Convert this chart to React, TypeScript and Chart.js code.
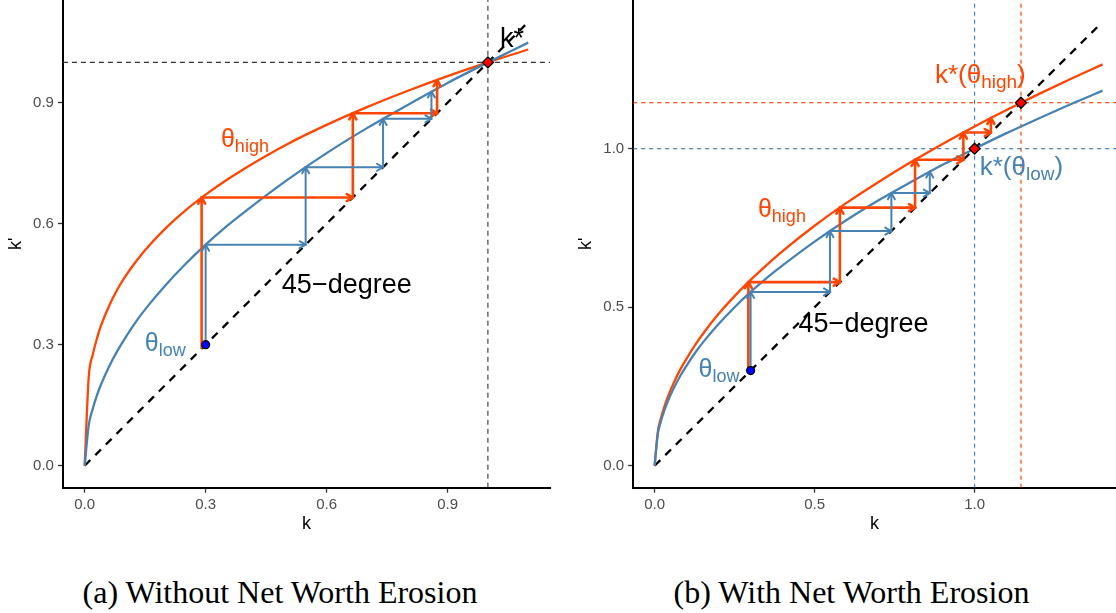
import React, { useEffect, useRef } from "react";
import { Chart, registerables } from "chart.js";

Chart.register(...registerables);

const FONT = '"Liberation Sans", Arial, Helvetica, sans-serif';
const ORANGE = "#FF4500";
const BLUE = "#4682B4";

// ---------- Panel (a): Without Net Worth Erosion ----------
const kGridA = [0, 0.01, 0.02, 0.03, 0.04, 0.06, 0.08, 0.1, 0.13, 0.16, 0.2, 0.25, 0.3, 0.35, 0.4, 0.5, 0.6, 0.7, 0.8, 0.9, 1.0, 1.1];
const thetaHighA = [0, 0.219, 0.275, 0.314, 0.346, 0.395, 0.435, 0.468, 0.51, 0.546, 0.588, 0.633, 0.672, 0.707, 0.739, 0.796, 0.845, 0.889, 0.929, 0.966, 1.0, 1.032];
const thetaLowA = [0, 0.1, 0.141, 0.173, 0.2, 0.245, 0.283, 0.316, 0.361, 0.4, 0.447, 0.5, 0.548, 0.592, 0.632, 0.707, 0.775, 0.837, 0.894, 0.949, 1.0, 1.049];
const diagA = [0, 1.1];
const steadyA = [1.0];
const startA = [0.3];
const webHighAK = [0.29, 0.29, 0.665, 0.665, 0.874, 0.874];
const webHighAY = [0.29, 0.665, 0.665, 0.874, 0.874, 0.956];
const webLowAK = [0.3, 0.3, 0.548, 0.548, 0.74, 0.74, 0.86, 0.86];
const webLowAY = [0.3, 0.548, 0.548, 0.74, 0.74, 0.86, 0.86, 0.928];
const ticksAX = [0, 0.3, 0.6, 0.9];
const ticksAY = [0, 0.3, 0.6, 0.9];

// ---------- Panel (b): With Net Worth Erosion ----------
const kGridB = [0, 0.01, 0.02, 0.03, 0.04, 0.06, 0.08, 0.1, 0.13, 0.16, 0.2, 0.25, 0.3, 0.35, 0.4, 0.5, 0.6, 0.7, 0.8, 0.9, 1.0, 1.1, 1.2, 1.3, 1.4];
const thetaHighB = [0, 0.107, 0.151, 0.185, 0.214, 0.262, 0.303, 0.338, 0.386, 0.428, 0.479, 0.535, 0.586, 0.633, 0.677, 0.757, 0.829, 0.895, 0.957, 1.015, 1.07, 1.122, 1.172, 1.22, 1.266];
const thetaLowB = [0, 0.1, 0.141, 0.173, 0.2, 0.245, 0.283, 0.316, 0.361, 0.4, 0.447, 0.5, 0.548, 0.592, 0.632, 0.707, 0.775, 0.837, 0.894, 0.949, 1.0, 1.049, 1.095, 1.14, 1.183];
const diagB = [0, 1.39];
const steadyB = [1.0, 1.145];
const startB = [0.3];
const webHighBK = [0.293, 0.293, 0.579, 0.579, 0.814, 0.814, 0.965, 0.965, 1.051, 1.051];
const webHighBY = [0.3, 0.579, 0.579, 0.814, 0.814, 0.965, 0.965, 1.051, 1.051, 1.097];
const webLowBK = [0.3, 0.3, 0.548, 0.548, 0.74, 0.74, 0.86, 0.86];
const webLowBY = [0.3, 0.548, 0.548, 0.74, 0.74, 0.86, 0.86, 0.928];
const ticksBX = [0, 0.5, 1.0];
const ticksBY = [0, 0.5, 1.0];

type Part = { t: string; size: number; dy?: number };
type Label = { x: number; y: number; color: string; parts: Part[] };
type RefLine = { v: number; color: string; dash: number[]; width: number };

interface PanelSpec {
  width: number;
  height: number;
  xMin: number;
  xMax: number;
  yMin: number;
  yMax: number;
  axisLeft: number;
  axisBottom: number;
  padRight: number;
  yTitlePad: number;
  xTicks: number[];
  yTicks: number[];
  kGrid: number[];
  high: number[];
  low: number[];
  diag: number[];
  webHighK: number[];
  webHighY: number[];
  webLowK: number[];
  webLowY: number[];
  steady: number[];
  start: number[];
  refs: RefLine[];
  labels: Label[];
}

const zip = (xs: number[], ys: number[]) => xs.map((x, i) => ({ x, y: ys[i] }));

const theta = (sub: string, color: string, x: number, y: number): Label => ({
  x,
  y,
  color,
  parts: [
    { t: "θ", size: 25 },
    { t: sub, size: 18, dy: 5 },
  ],
});

const specA: PanelSpec = {
  width: 558,
  height: 540,
  xMin: -0.054,
  xMax: 1.154,
  yMin: -0.0545,
  yMax: 1.1547,
  axisLeft: 62.9,
  axisBottom: 52.3,
  padRight: 8,
  yTitlePad: 5,
  xTicks: ticksAX,
  yTicks: ticksAY,
  kGrid: kGridA,
  high: thetaHighA,
  low: thetaLowA,
  diag: diagA,
  webHighK: webHighAK,
  webHighY: webHighAY,
  webLowK: webLowAK,
  webLowY: webLowAY,
  steady: steadyA,
  start: startA,
  refs: [{ v: 1.0, color: "#333333", dash: [5, 4], width: 1.1 }],
  labels: [
    theta("high", ORANGE, 0.338, 0.79),
    theta("low", BLUE, 0.149, 0.284),
    { x: 0.489, y: 0.4275, color: "#000", parts: [{ t: "45\u2212degree", size: 27 }] },
    { x: 1.03, y: 1.039, color: "#000", parts: [{ t: "k*", size: 27 }] },
  ],
};

const specB: PanelSpec = {
  width: 558,
  height: 540,
  xMin: -0.0669,
  xMax: 1.442,
  yMin: -0.0694,
  yMax: 1.469,
  axisLeft: 75.2,
  axisBottom: 52.3,
  padRight: 0,
  yTitlePad: 17,
  xTicks: ticksBX,
  yTicks: ticksBY,
  kGrid: kGridB,
  high: thetaHighB,
  low: thetaLowB,
  diag: diagB,
  webHighK: webHighBK,
  webHighY: webHighBY,
  webLowK: webLowBK,
  webLowY: webLowBY,
  steady: steadyB,
  start: startB,
  refs: [
    { v: 1.0, color: BLUE, dash: [4, 4], width: 1.2 },
    { v: 1.145, color: ORANGE, dash: [4, 4], width: 1.2 },
  ],
  labels: [
    {
      x: 0.876,
      y: 1.206,
      color: ORANGE,
      parts: [
        { t: "k*(θ", size: 26 },
        { t: "high", size: 19, dy: 5 },
        { t: ")", size: 26 },
      ],
    },
    {
      x: 1.016,
      y: 0.917,
      color: BLUE,
      parts: [
        { t: "k*(θ", size: 26 },
        { t: "low", size: 19, dy: 5 },
        { t: ")", size: 26 },
      ],
    },
    theta("high", ORANGE, 0.323, 0.7855),
    theta("low", BLUE, 0.1375, 0.281),
    { x: 0.45, y: 0.4227, color: "#000", parts: [{ t: "45\u2212degree", size: 27 }] },
  ],
};

const arrowPlugin = {
  id: "arrowHeads",
  afterDatasetDraw(chart: any, args: any) {
    const ds = chart.data.datasets[args.index];
    if (!ds.arrow) return;
    const pts = args.meta.data;
    const ctx = chart.ctx;
    ctx.save();
    ctx.strokeStyle = ds.borderColor;
    ctx.lineWidth = ds.borderWidth;
    ctx.lineCap = "round";
    ctx.lineJoin = "round";
    const L = 7;
    const phi = Math.PI / 6;
    for (let i = 1; i < pts.length; i++) {
      const a = pts[i - 1];
      const b = pts[i];
      const ang = Math.atan2(b.y - a.y, b.x - a.x);
      ctx.beginPath();
      ctx.moveTo(b.x - L * Math.cos(ang - phi), b.y - L * Math.sin(ang - phi));
      ctx.lineTo(b.x, b.y);
      ctx.lineTo(b.x - L * Math.cos(ang + phi), b.y - L * Math.sin(ang + phi));
      ctx.stroke();
    }
    ctx.restore();
  },
};

function buildChart(canvas: HTMLCanvasElement, spec: PanelSpec) {
  const labelPlugin = {
    id: "richLabels",
    afterDraw(chart: any) {
      const ctx = chart.ctx;
      const xs = chart.scales.x;
      const ys = chart.scales.y;
      ctx.save();
      ctx.textBaseline = "alphabetic";
      ctx.textAlign = "left";
      for (const lb of spec.labels) {
        let px = xs.getPixelForValue(lb.x);
        const py = ys.getPixelForValue(lb.y);
        ctx.fillStyle = lb.color;
        for (const part of lb.parts) {
          ctx.font = `${part.size}px ${FONT}`;
          ctx.fillText(part.t, px, py + (part.dy || 0));
          px += ctx.measureText(part.t).width;
        }
      }
      ctx.restore();
    },
  };

  const lineBase = { showLine: true, pointRadius: 0, pointHoverRadius: 0, tension: 0, fill: false };

  const datasets: any[] = [
    {
      data: spec.steady.map((v) => ({ x: v, y: v })),
      showLine: false,
      pointStyle: "rectRot",
      pointRadius: 5.5,
      backgroundColor: "#FF0000",
      borderColor: "#000",
      borderWidth: 1.3,
    },
    {
      data: spec.start.map((v) => ({ x: v, y: v })),
      showLine: false,
      pointStyle: "circle",
      pointRadius: 4,
      backgroundColor: "#0000FF",
      borderColor: "#000",
      borderWidth: 1.2,
    },
    { ...lineBase, data: zip(spec.webLowK, spec.webLowY), borderColor: BLUE, borderWidth: 2, arrow: true },
    { ...lineBase, data: zip(spec.webHighK, spec.webHighY), borderColor: ORANGE, borderWidth: 2.6, arrow: true },
    {
      ...lineBase,
      data: zip(spec.kGrid, spec.low),
      borderColor: BLUE,
      borderWidth: 2.3,
      cubicInterpolationMode: "monotone",
    },
    {
      ...lineBase,
      data: zip(spec.kGrid, spec.high),
      borderColor: ORANGE,
      borderWidth: 2.3,
      cubicInterpolationMode: "monotone",
    },
    {
      ...lineBase,
      data: spec.diag.map((v) => ({ x: v, y: v })),
      borderColor: "#000",
      borderWidth: 2.3,
      borderDash: [8, 7],
    },
  ];

  for (const r of spec.refs) {
    datasets.push({
      ...lineBase,
      data: [
        { x: spec.xMin, y: r.v },
        { x: spec.xMax, y: r.v },
      ],
      borderColor: r.color,
      borderWidth: r.width,
      borderDash: r.dash,
    });
    datasets.push({
      ...lineBase,
      data: [
        { x: r.v, y: spec.yMin },
        { x: r.v, y: spec.yMax },
      ],
      borderColor: r.color,
      borderWidth: r.width,
      borderDash: r.dash,
    });
  }

  const tickFont = { size: 15, family: FONT };
  const titleFont = { size: 18, family: FONT };

  return new Chart(canvas, {
    type: "scatter",
    data: { datasets },
    plugins: [arrowPlugin, labelPlugin],
    options: {
      animation: false,
      responsive: false,
      maintainAspectRatio: false,
      devicePixelRatio: 1,
      events: [],
      layout: { autoPadding: false, padding: { left: 0, right: spec.padRight, top: 0, bottom: 0 } },
      plugins: { legend: { display: false }, tooltip: { enabled: false } },
      scales: {
        x: {
          type: "linear",
          position: "bottom",
          min: spec.xMin,
          max: spec.xMax,
          border: { display: true, color: "#000", width: 2 },
          grid: { display: true, drawOnChartArea: false, drawTicks: true, tickLength: 5, tickColor: "#333", tickWidth: 1.3 },
          ticks: {
            color: "#4d4d4d",
            font: tickFont,
            padding: 3,
            autoSkip: false,
            maxRotation: 0,
            callback: (v: any) => Number(v).toFixed(1),
          },
          afterBuildTicks: (s: any) => {
            s.ticks = spec.xTicks.map((v) => ({ value: v }));
          },
          afterFit: (s: any) => {
            s.height = spec.axisBottom;
            s.paddingLeft = 0;
            s.paddingRight = 0;
            s.paddingTop = 0;
            s.paddingBottom = 0;
          },
          title: { display: true, text: "k", color: "#000", font: titleFont, padding: { top: 0, bottom: 5 } },
        },
        y: {
          type: "linear",
          position: "left",
          min: spec.yMin,
          max: spec.yMax,
          border: { display: true, color: "#000", width: 2 },
          grid: { display: true, drawOnChartArea: false, drawTicks: true, tickLength: 5, tickColor: "#333", tickWidth: 1.3 },
          ticks: {
            color: "#4d4d4d",
            font: tickFont,
            padding: 4,
            autoSkip: false,
            callback: (v: any) => Number(v).toFixed(1),
          },
          afterBuildTicks: (s: any) => {
            s.ticks = spec.yTicks.map((v) => ({ value: v }));
          },
          afterFit: (s: any) => {
            s.width = spec.axisLeft;
            s.paddingLeft = 0;
            s.paddingRight = 0;
            s.paddingTop = 0;
            s.paddingBottom = 0;
          },
          title: { display: true, text: "k'", color: "#000", font: titleFont, padding: { top: spec.yTitlePad, bottom: 0 } },
        },
      },
    } as any,
  });
}

function Panel({ spec, left }: { spec: PanelSpec; left: number }) {
  const ref = useRef<HTMLCanvasElement>(null);
  useEffect(() => {
    const chart = buildChart(ref.current as HTMLCanvasElement, spec);
    return () => chart.destroy();
  }, []);
  return (
    <canvas
      ref={ref}
      width={spec.width}
      height={spec.height}
      style={{ position: "absolute", left, top: 0, width: spec.width, height: spec.height }}
    />
  );
}

const captionStyle = (center: number): React.CSSProperties => ({
  position: "absolute",
  left: center - 300,
  width: 600,
  top: 574,
  textAlign: "center",
  fontFamily: '"Liberation Serif", "Times New Roman", serif',
  fontSize: 32,
  lineHeight: "36px",
  color: "#000",
  whiteSpace: "nowrap",
});

export default function App() {
  return (
    <div
      style={{
        position: "absolute",
        left: 0,
        top: 0,
        width: 1116,
        height: 613,
        background: "#fff",
        overflow: "hidden",
      }}
    >
      <Panel spec={specA} left={0} />
      <Panel spec={specB} left={558} />
      <div style={captionStyle(280)}>(a) Without Net Worth Erosion</div>
      <div style={captionStyle(851.5)}>(b) With Net Worth Erosion</div>
    </div>
  );
}
